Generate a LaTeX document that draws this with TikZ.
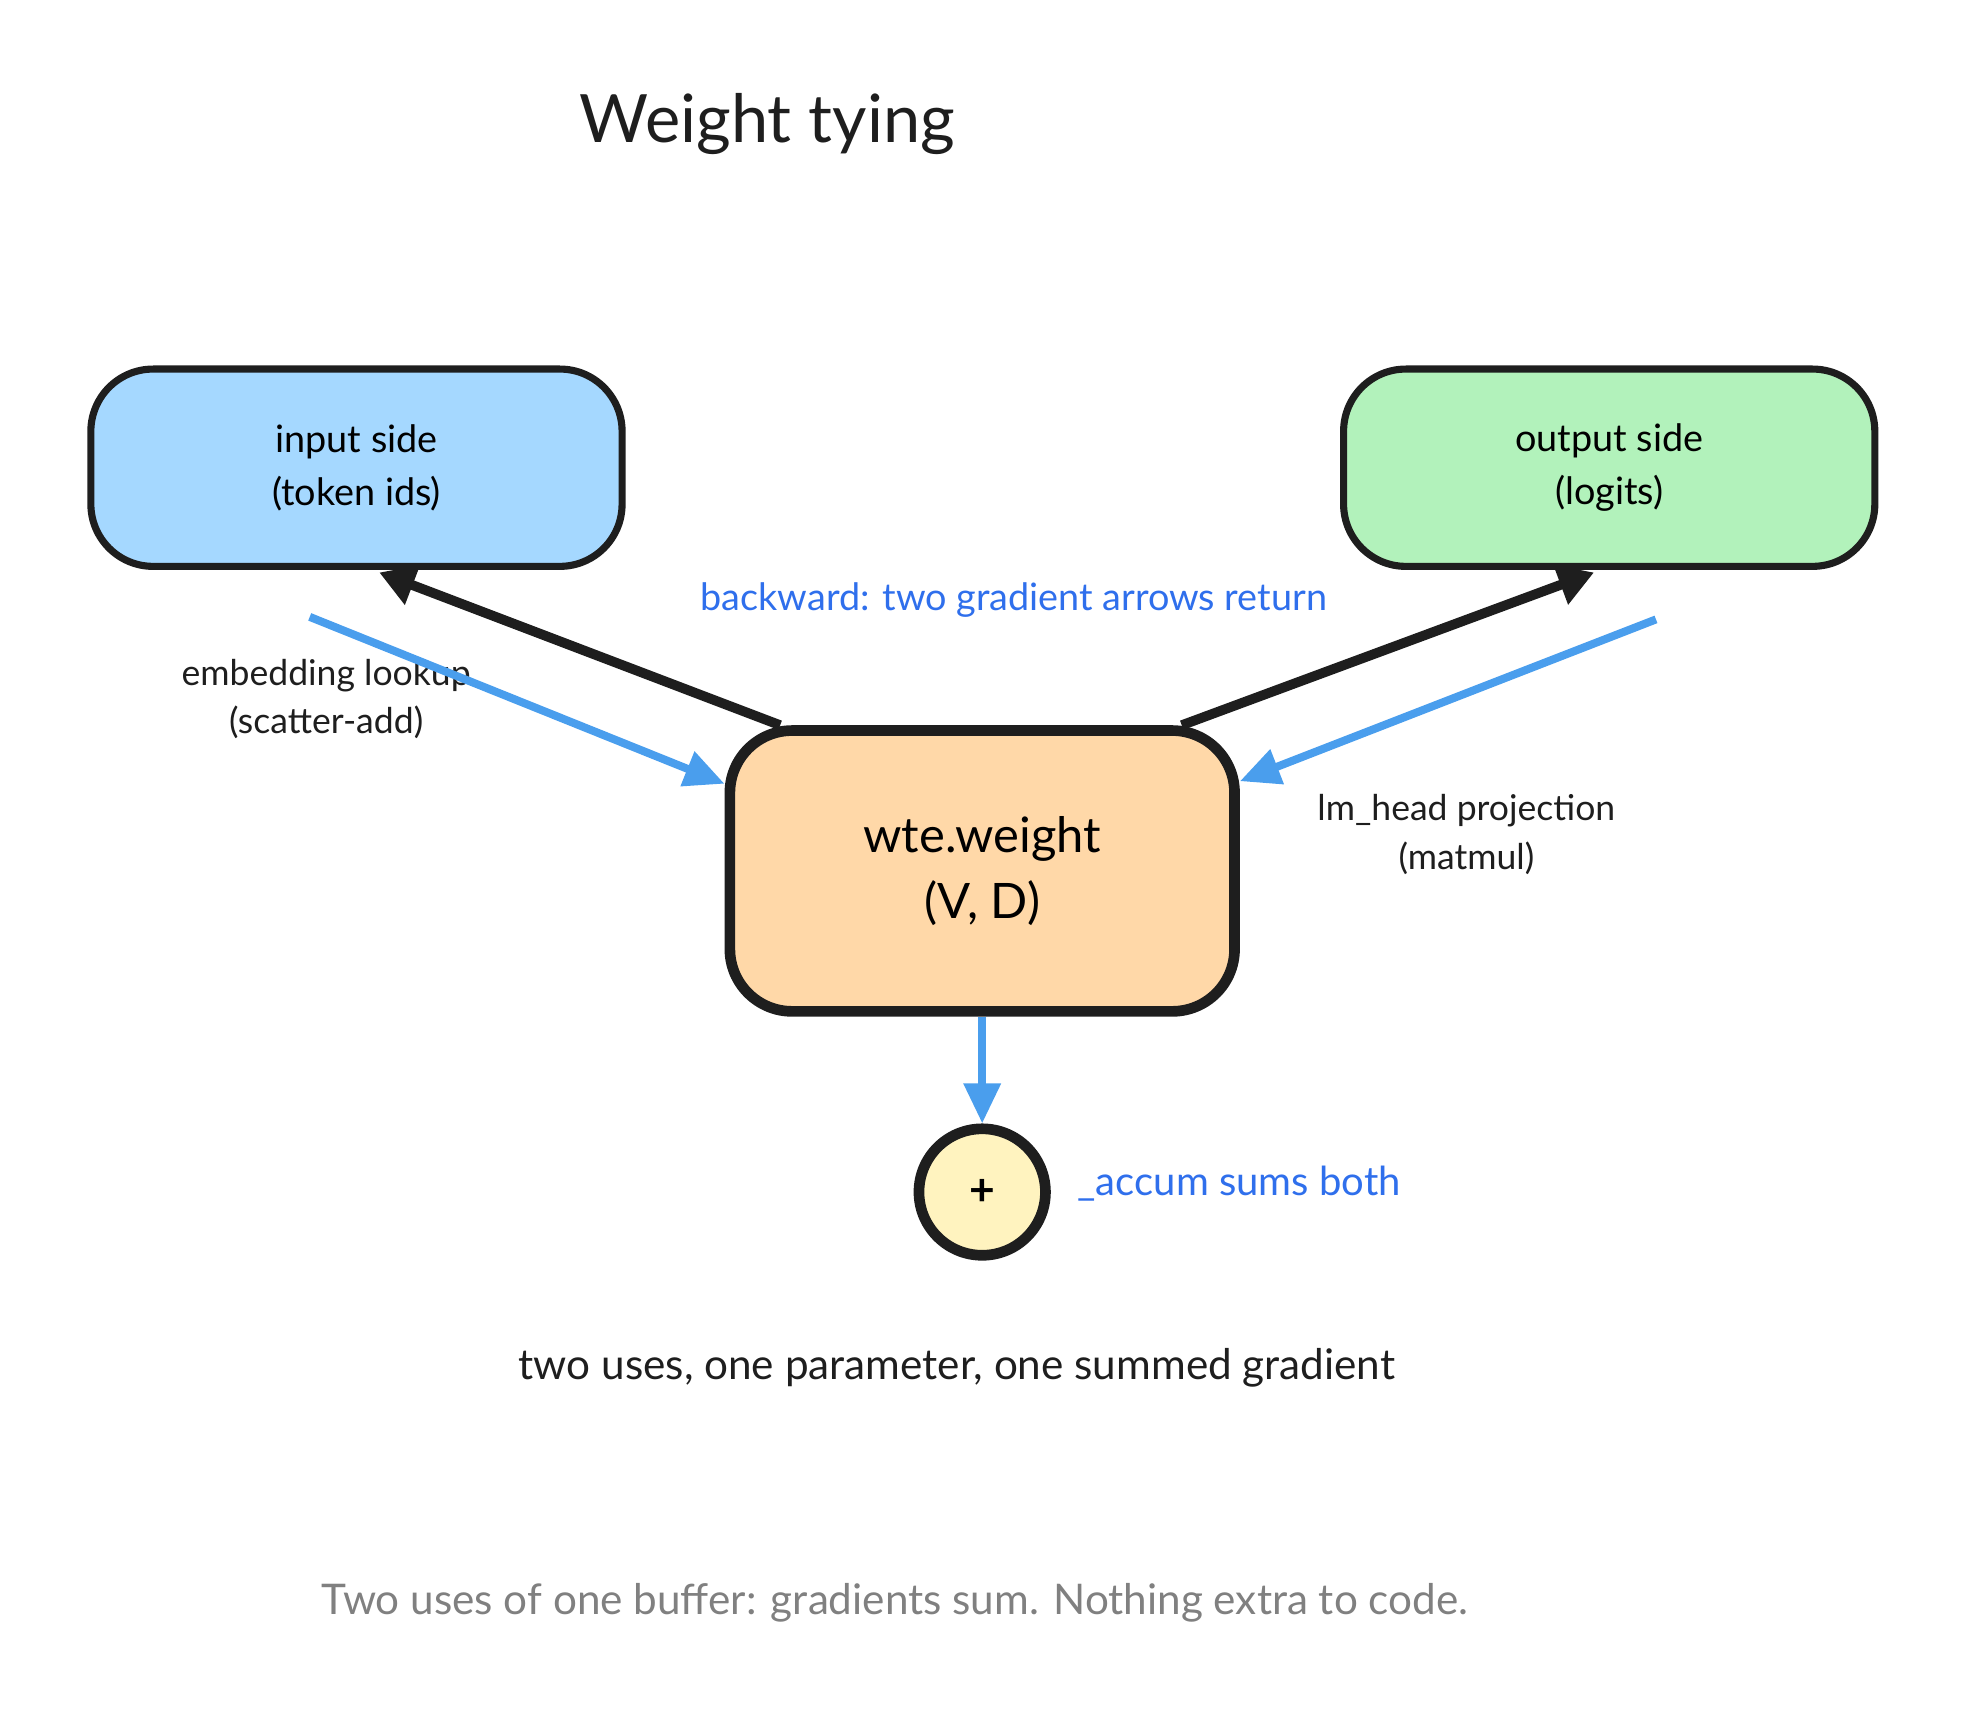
\documentclass[tikz,border=0pt]{standalone}
\usepackage{fontspec}
\setmainfont{Lato}
\usetikzlibrary{positioning, calc, arrows.meta}
\definecolor{inblue}{HTML}{A5D8FF}
\definecolor{outgreen}{HTML}{B2F2BB}
\definecolor{wteorange}{HTML}{FFD8A8}
\definecolor{sumyellow}{HTML}{FFF3BF}
\definecolor{gradblue}{HTML}{4A9EED}
\definecolor{notetext}{HTML}{2F6FEC}
\definecolor{ink}{HTML}{1E1E1E}
\tikzset{
  box/.style={draw=ink, line width=1.6pt, rounded corners=14pt, align=center, font=\fontsize{8.5}{12}\selectfont},
  fwd/.style={-{Triangle[length=8pt,width=9pt]}, draw=ink, line width=2.2pt},
  grad/.style={-{Triangle[length=9pt,width=8pt]}, draw=gradblue, line width=1.8pt},
  lbl/.style={align=center, text=ink, font=\fontsize{8}{11}\selectfont},
}
\begin{document}
\begin{tikzpicture}[x=0.01cm, y=0.01cm]
    \useasboundingbox (0,0) rectangle (1560,-1358);
    \node[font=\fontsize{15}{18}\selectfont, text=ink] (title) at (607,-98) {Weight tying};
    \node[box, fill=inblue, minimum width=4.2cm, minimum height=1.56cm] (in) at (282,-370) {input side\\(token ids)};
    \node[box, fill=outgreen, minimum width=4.2cm, minimum height=1.56cm] (out) at (1273,-370) {output side\\(logits)};
    \node[box, fill=wteorange, line width=2.4pt, minimum width=3.99cm, minimum height=2.22cm, font=\fontsize{11}{15}\selectfont] (wte) at (777,-689) {wte.weight\\(V, D)};
    \node[circle, draw=ink, line width=2.4pt, fill=sumyellow, minimum size=1.0cm, font=\bfseries] (sum) at (777,-943) {+};
    \coordinate (gin) at (245,-488);
    \coordinate (gout) at (1310,-490);
    \node[lbl] (emb) at (258,-553) {embedding lookup\\(scatter-add)};
    \node[lbl] (lmh) at (1160,-660) {lm\_head projection\\(matmul)};
    \node[text=notetext, font=\fontsize{8.5}{10}\selectfont] (back) at (802,-475) {backward: two gradient arrows return};
    \node[text=notetext, font=\fontsize{9}{11}\selectfont, anchor=west] (acc) at (840,-936) {\_accum sums both};
    \node[text=ink, font=\fontsize{9.5}{11}\selectfont] (uses) at (757,-1082) {two uses, one parameter, one summed gradient};
    \node[text=gray, font=\fontsize{9.5}{11}\selectfont] (note) at (708,-1268) {Two uses of one buffer: gradients sum. Nothing extra to code.};
    \draw[fwd] ($(wte.north west)+(44,0)$) -- ($(in.south)+(18,-2)$);
    \draw[fwd] ($(wte.north east)+(-46,0)$) -- ($(out.south)+(-12,-2)$);
    \draw[grad] (gin) -- (wte.west |- 0,-620);
    \draw[grad] (gout) -- (wte.east |- 0,-618);
    \draw[grad] (wte.south) -- (sum.north);
\end{tikzpicture}
\end{document}
